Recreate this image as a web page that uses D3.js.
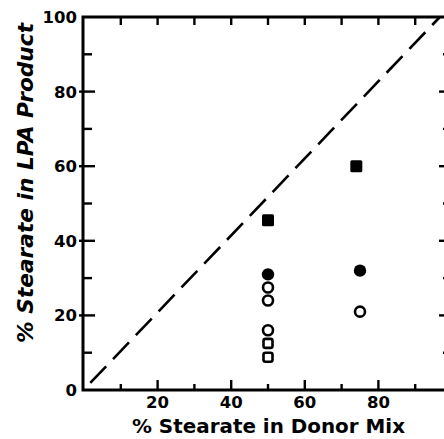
<!DOCTYPE html>
<html>
<head>
<meta charset="utf-8">
<script src="https://cdn.jsdelivr.net/npm/d3@7"></script>
<style>
html,body{margin:0;padding:0;background:#fff;}
svg{display:block;}
</style>
</head>
<body>
<script>
// ---- data ----
const xMajorTicks = [20, 40, 60, 80];
const xMinorTicks = [10, 30, 50, 70, 90];
const yMajorTicks = [0, 20, 40, 60, 80, 100];
const yMinorTicks = [10, 30, 50, 70, 90];
const xTitle = "% Stearate in Donor Mix";
const yTitle = "% Stearate in LPA Product";

const filledSquareX = [50, 74];
const filledSquareY = [45.5, 60];
const filledCircleX = [50, 75];
const filledCircleY = [31, 32];
const openCircleX = [50, 50, 50, 75];
const openCircleY = [27.5, 24, 16, 21];
const openSquareX = [50, 50];
const openSquareY = [12.5, 8.8];
const diagonal = [[1.7, 1.9], [96.7, 100]];

// ---- layout ----
const W = 444, H = 439;
const x = d3.scaleLinear().domain([0, 100]).range([84, 452]);
const y = d3.scaleLinear().domain([0, 100]).range([390, 17]);
const axL = 83, axB = 390, axT = 17, axR = 452;

const svg = d3.select("body").append("svg").attr("width", W).attr("height", H);
const ink = "#000";

// frame
const frame = svg.append("g").attr("stroke", ink).attr("stroke-width", 3).attr("fill", "none");
frame.append("path").attr("d", `M${axL},${axT} H${axR} V${axB} H${axL} Z`).attr("stroke-linejoin", "miter");

// ticks
const ticks = svg.append("g").attr("stroke", ink).attr("stroke-width", 2.4);
// left
ticks.selectAll(null).data(yMajorTicks.filter(d => d > 0 && d < 100)).join("line")
  .attr("x1", axL - 4).attr("x2", axL + 12).attr("y1", d => y(d)).attr("y2", d => y(d));
ticks.selectAll(null).data(yMinorTicks).join("line")
  .attr("x1", axL).attr("x2", axL + 9).attr("y1", d => y(d)).attr("y2", d => y(d));
// right
ticks.selectAll(null).data(yMajorTicks.filter(d => d > 0 && d < 100)).join("line")
  .attr("x1", axR).attr("x2", axR - 13).attr("y1", d => y(d)).attr("y2", d => y(d));
ticks.selectAll(null).data(yMinorTicks).join("line")
  .attr("x1", axR).attr("x2", axR - 9).attr("y1", d => y(d)).attr("y2", d => y(d));
// bottom
ticks.selectAll(null).data(xMajorTicks).join("line")
  .attr("x1", d => x(d)).attr("x2", d => x(d)).attr("y1", axB).attr("y2", axB - 10);
ticks.selectAll(null).data(xMinorTicks).join("line")
  .attr("x1", d => x(d)).attr("x2", d => x(d)).attr("y1", axB).attr("y2", axB - 6);
// top
ticks.selectAll(null).data(xMajorTicks.concat(xMinorTicks)).join("line")
  .attr("x1", d => x(d)).attr("x2", d => x(d)).attr("y1", axT).attr("y2", axT + 8);

// tick labels
const lab = svg.append("g").attr("font-family", "'DejaVu Sans', sans-serif")
  .attr("font-weight", "bold").attr("font-size", 16.5).attr("fill", ink);
lab.selectAll(null).data(yMajorTicks).join("text")
  .attr("x", 77).attr("y", d => y(d)).attr("dy", "0.36em")
  .attr("text-anchor", "end").text(d => d);
lab.selectAll(null).data(xMajorTicks).join("text")
  .attr("x", d => x(d)).attr("y", 408)
  .attr("text-anchor", "middle").text(d => d);

// axis titles
svg.append("text").attr("x", 268.5).attr("y", 433)
  .attr("text-anchor", "middle")
  .attr("font-family", "'DejaVu Sans', sans-serif").attr("font-weight", "bold")
  .attr("font-size", 19.5).attr("textLength", 273).attr("lengthAdjust", "spacingAndGlyphs")
  .text(xTitle);
svg.append("text").attr("transform", "translate(33,183) rotate(-90)")
  .attr("text-anchor", "middle")
  .attr("font-family", "'DejaVu Sans', sans-serif").attr("font-weight", "bold").attr("font-style", "italic")
  .attr("font-size", 21).attr("textLength", 320).attr("lengthAdjust", "spacingAndGlyphs")
  .text(yTitle);

// diagonal dashed line
svg.append("path").datum(diagonal)
  .attr("d", d3.line().x(d => x(d[0])).y(d => y(d[1])))
  .attr("stroke", ink).attr("stroke-width", 2.6).attr("fill", "none")
  .attr("stroke-dasharray", "23,10");

// markers
const marks = svg.append("g");
marks.selectAll(null).data(d3.range(filledSquareX.length)).join("rect")
  .attr("x", i => x(filledSquareX[i]) - 6).attr("y", i => y(filledSquareY[i]) - 6)
  .attr("width", 12).attr("height", 12).attr("rx", 1.5).attr("fill", ink);
marks.selectAll(null).data(d3.range(filledCircleX.length)).join("circle")
  .attr("cx", i => x(filledCircleX[i])).attr("cy", i => y(filledCircleY[i]))
  .attr("r", 6.2).attr("fill", ink);
marks.selectAll(null).data(d3.range(openCircleX.length)).join("circle")
  .attr("cx", i => x(openCircleX[i])).attr("cy", i => y(openCircleY[i]))
  .attr("r", 5).attr("fill", "#fff").attr("stroke", ink).attr("stroke-width", 2.6);
marks.selectAll(null).data(d3.range(openSquareX.length)).join("rect")
  .attr("x", i => x(openSquareX[i]) - 4.5).attr("y", i => y(openSquareY[i]) - 4.5)
  .attr("width", 9).attr("height", 9).attr("rx", 2)
  .attr("fill", "#fff").attr("stroke", ink).attr("stroke-width", 2.6);
</script>
</body>
</html>
